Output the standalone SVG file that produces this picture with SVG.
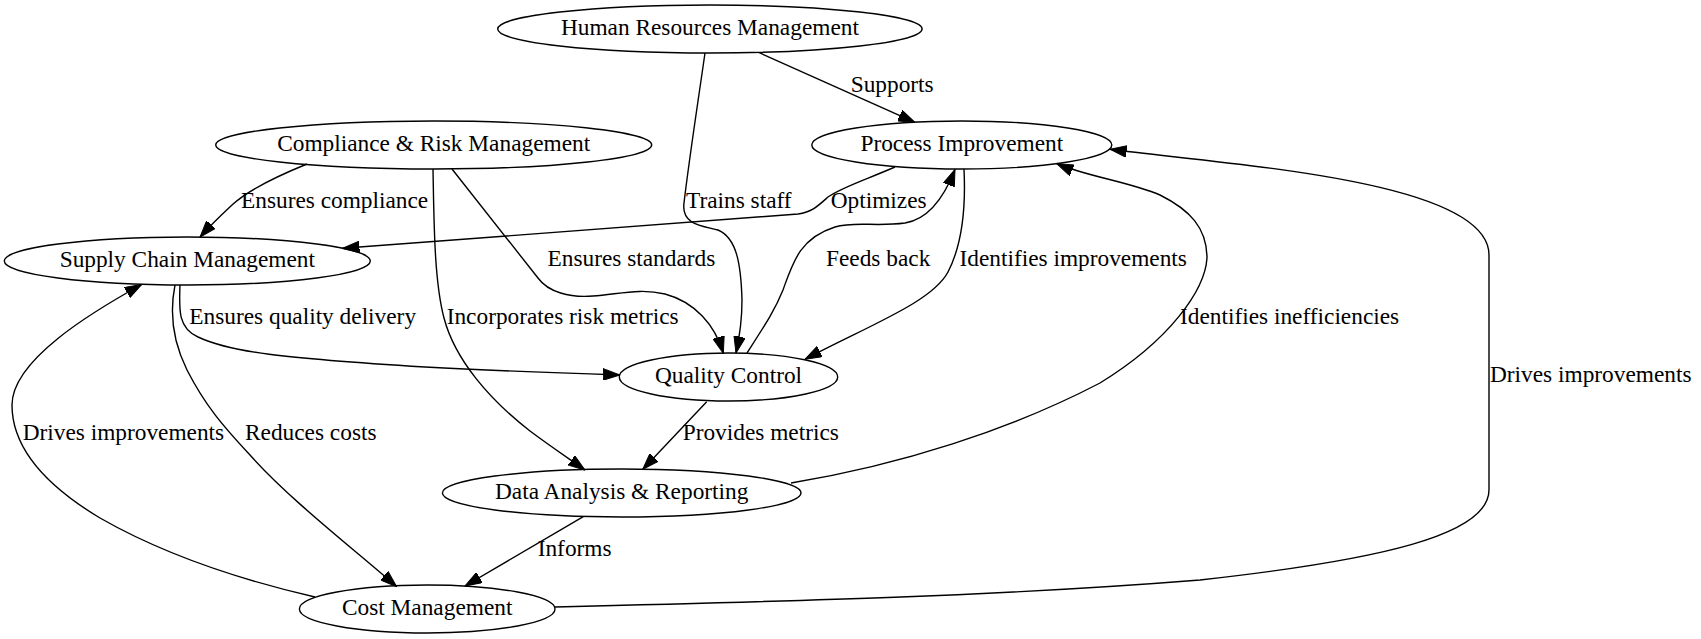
<svg xmlns="http://www.w3.org/2000/svg" width="1701" height="639" viewBox="0 0 1701 639">
<style>
.n ellipse{fill:none;stroke:#000;stroke-width:1.4}
text{font-family:"Liberation Serif","Times New Roman",serif;font-size:23.33px;fill:#000}
.n text{text-anchor:middle}
.e path{fill:none;stroke:#000;stroke-width:1.4;marker-end:url(#arr)}
</style>
<defs>
<marker id="arr" markerUnits="userSpaceOnUse" viewBox="0 0 17 12" markerWidth="17" markerHeight="12" refX="16.7" refY="6" orient="auto">
<path d="M0,0.2 L16.7,6 L0,11.8 z" fill="#000" stroke="#000" stroke-width="1"/>
</marker>
</defs>
<rect width="1701" height="639" fill="#fff"/>
<g id="edges" class="e">
<path d="M759.3,52.7 L915,122.4"/>
<path d="M705,53 C699,95 689,160 684,203 C681,225 703,226 718,230 C737,238 741,265 742,300 C742,320 740,335 736,353"/>
<path d="M895,167 C865,180 840,188 828,197 C818,206 812,212 798,214 L342.7,248.3"/>
<path d="M747,353 C765,325 775,310 783,290 C793,262 800,238 835,227 C855,221 875,227 905,223 C930,219 945,195 955,169.5"/>
<path d="M964,169 C966,210 962,245 948,272 C932,302 870,325 805,359.3"/>
<path d="M452,169 L538,278 C548,292 570,298 593,296 C620,294 640,288 665,294 C695,302 715,325 723.3,353.3"/>
<path d="M433,169 C434,220 434,280 444,318 C455,360 490,400 530,431 C550,446 568,458 585,470"/>
<path d="M307,164 C275,177 248,190 232,205 C218,218 208,228 200,237.2"/>
<path d="M180,285 C179,310 178,328 198,337 C230,352 280,358 425,367 C500,371 560,373 620,375"/>
<path d="M175,285 C170,310 172,340 187,370 C205,405 222,425 250,455 C290,500 355,550 396.7,586.7"/>
<path d="M315,597 C250,582 170,558 100,518 C40,482 12,445 12,405 C12,360 92,312 141.7,284.5"/>
<path d="M706.7,401.7 L642.7,469.5"/>
<path d="M583.3,516.7 L465,586"/>
<path d="M791,483 C900,465 1010,430 1100,383 C1170,340 1205,290 1207,258 C1207,228 1190,210 1160,195 C1130,182 1085,176 1056.7,163.5"/>
<path d="M555,607 C800,601 1000,596 1200,580 C1380,560 1489,535 1489,490 L1489,255 C1489,180 1230,165 1110,149.3"/>
<text x="850.7" y="91.7">Supports</text>
<text x="686" y="207.7">Trains staff</text>
<text x="830.7" y="207.7">Optimizes</text>
<text x="241" y="207.7">Ensures compliance</text>
<text x="826" y="265.7">Feeds back</text>
<text x="547.5" y="265.7">Ensures standards</text>
<text x="959.5" y="265.7">Identifies improvements</text>
<text x="189.3" y="323.7">Ensures quality delivery</text>
<text x="446.7" y="323.7">Incorporates risk metrics</text>
<text x="1180" y="323.7">Identifies inefficiencies</text>
<text x="1490" y="381.7">Drives improvements</text>
<text x="22.7" y="439.7">Drives improvements</text>
<text x="245" y="439.7">Reduces costs</text>
<text x="682.7" y="439.7">Provides metrics</text>
<text x="537.7" y="555.7">Informs</text>
</g>
<g id="hr" class="n"><ellipse cx="709.9" cy="29" rx="212.2" ry="24"/><text x="709.9" y="34.5">Human Resources Management</text></g>
<g id="compliance" class="n"><ellipse cx="433.7" cy="145" rx="218" ry="24"/><text x="433.7" y="150.5">Compliance &amp; Risk Management</text></g>
<g id="process" class="n"><ellipse cx="961.8" cy="145" rx="150" ry="24"/><text x="961.8" y="150.5">Process Improvement</text></g>
<g id="supply" class="n"><ellipse cx="187.3" cy="261" rx="183" ry="24"/><text x="187.3" y="266.5">Supply Chain Management</text></g>
<g id="quality" class="n"><ellipse cx="728.5" cy="377" rx="109.2" ry="24"/><text x="728.5" y="382.5">Quality Control</text></g>
<g id="data" class="n"><ellipse cx="621.7" cy="493" rx="179.3" ry="24"/><text x="621.7" y="498.5">Data Analysis &amp; Reporting</text></g>
<g id="cost" class="n"><ellipse cx="427.2" cy="609" rx="127.8" ry="24"/><text x="427.2" y="614.5">Cost Management</text></g>
</svg>
